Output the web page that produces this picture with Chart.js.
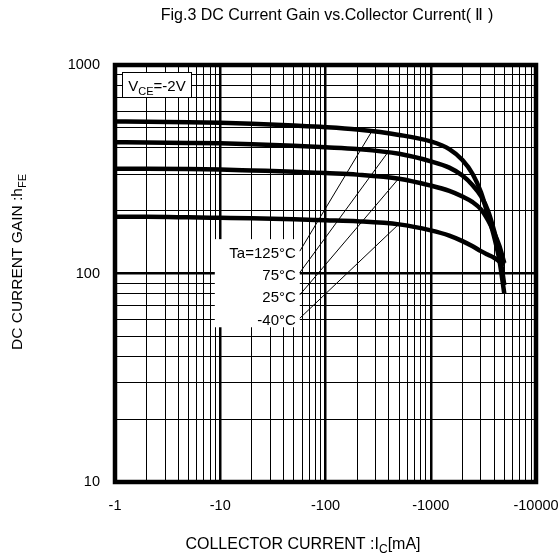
<!DOCTYPE html>
<html>
<head>
<meta charset="utf-8">
<script src="https://cdn.jsdelivr.net/npm/chart.js@4.4.1/dist/chart.umd.min.js"></script>
<style>
  body { margin: 0; background: #fff; }
  #wrap { width: 560px; height: 560px; }
</style>
</head>
<body>
<div id="wrap"><canvas id="gainChart" width="560" height="560"></canvas></div>
<script>
// Datos (corriente de colector en mA, se muestra con signo -)
const currents = [1, 2, 5, 10, 20, 50, 100, 200, 500, 1000, 1500, 2000, 2500, 3000, 3500, 4000, 4500, 5000];
const gain125 = [536, 535, 532, 528, 522, 512, 503, 490, 462, 430, 395, 350, 300, 245, 190, 150, 115, 80];
const gain75  = [426, 425, 423, 421, 417, 410, 403, 395, 375, 345, 322, 295, 265, 235, 200, 160, 125, 88];
const gain25  = [318, 318, 317, 315, 312, 308, 303, 298, 285, 264, 249, 234, 220, 203, 180, 157, 135, 112];
const gainM40 = [187, 187, 186, 185, 184, 182, 180, 178, 172, 161, 152, 143, 135, 128, 123, 119, 114, 110];
const seriesNames = ['Ta=125°C', '75°C', '25°C', '-40°C'];

const xTickValues = [1, 10, 100, 1000, 10000];
const xTickLabels = ['-1', '-10', '-100', '-1000', '-10000'];
const yTickValues = [10, 100, 1000];
const yTickLabels = ['10', '100', '1000'];

// líneas guía de las etiquetas de temperatura (en unidades del gráfico)
const leaderFromX = 57;
const leaderFromY = [128, 101, 79, 61];
const leaderToX = [275, 390, 495, 495];

const FONT = 'Liberation Sans, Arial, sans-serif';

// ticks menores 1..9 por década
function logTicks(min, max) {
  const out = [];
  for (let d = min; d < max; d *= 10) {
    for (let m = 1; m < 10; m++) out.push({ value: d * m });
  }
  out.push({ value: max });
  return out;
}

function isDecade(v) {
  const l = Math.log10(v);
  return Math.abs(l - Math.round(l)) < 1e-9;
}

// valor de la curva en x (interpolación log-log)
function gainAt(values, x) {
  for (let i = 0; i < currents.length - 1; i++) {
    if (x >= currents[i] && x <= currents[i + 1]) {
      const t = (Math.log10(x) - Math.log10(currents[i])) / (Math.log10(currents[i + 1]) - Math.log10(currents[i]));
      return Math.pow(10, Math.log10(values[i]) + t * (Math.log10(values[i + 1]) - Math.log10(values[i])));
    }
  }
  return values[values.length - 1];
}

// texto con subíndices
function drawRich(ctx, parts, x, y, align, size) {
  const big = size + 'px ' + FONT;
  const small = Math.round(size * 0.72) + 'px ' + FONT;
  let w = 0;
  parts.forEach(p => { ctx.font = p.sub ? small : big; w += ctx.measureText(p.t).width; });
  let cx = align === 'center' ? x - w / 2 : (align === 'right' ? x - w : x);
  ctx.textAlign = 'left';
  ctx.textBaseline = 'alphabetic';
  parts.forEach(p => {
    ctx.font = p.sub ? small : big;
    ctx.fillText(p.t, cx, p.sub ? y + size * 0.28 : y);
    cx += ctx.measureText(p.t).width;
  });
}

const allSeries = [gain125, gain75, gain25, gainM40];

const decoPlugin = {
  id: 'deco',
  beforeDatasetsDraw(chart) {
    const ctx = chart.ctx, a = chart.chartArea;
    const xs = chart.scales.x, ys = chart.scales.y;
    ctx.save();
    ctx.fillStyle = '#fff';
    // caja de etiquetas de temperatura
    const bx = xs.getPixelForValue(leaderFromX);
    const top = ys.getPixelForValue(leaderFromY[0]) - 12;
    const bot = ys.getPixelForValue(leaderFromY[3]) + 9;
    ctx.fillRect(bx - 85, top, 85, bot - top);
    // caja VCE
    ctx.fillRect(a.left + 7, a.top + 7, 69, 25);
    ctx.strokeStyle = '#000';
    ctx.lineWidth = 1;
    ctx.strokeRect(a.left + 7.5, a.top + 7.5, 69, 25);
    ctx.restore();
  },
  afterDatasetsDraw(chart) {
    const ctx = chart.ctx, a = chart.chartArea;
    const xs = chart.scales.x, ys = chart.scales.y;
    ctx.save();
    ctx.fillStyle = '#000';
    drawRich(ctx, [{ t: 'V' }, { t: 'CE', sub: true }, { t: '=-2V' }], a.left + 42, a.top + 26, 'center', 15);

    const bx = xs.getPixelForValue(leaderFromX);
    ctx.strokeStyle = '#000';
    ctx.lineWidth = 1;
    seriesNames.forEach((name, i) => {
      const y0 = ys.getPixelForValue(leaderFromY[i]);
      const x1 = xs.getPixelForValue(leaderToX[i]);
      const y1 = ys.getPixelForValue(gainAt(allSeries[i], leaderToX[i]));
      ctx.beginPath();
      ctx.moveTo(bx, y0);
      ctx.lineTo(x1, y1);
      ctx.stroke();
      ctx.font = '15px ' + FONT;
      ctx.textAlign = 'right';
      ctx.textBaseline = 'middle';
      ctx.fillText(name, bx - 4, y0 + 3);
    });

    // marco grueso
    ctx.lineWidth = 4.5;
    ctx.strokeRect(a.left, a.top, a.right - a.left, a.bottom - a.top);
    ctx.restore();
  },
  afterDraw(chart) {
    const ctx = chart.ctx;
    ctx.save();
    ctx.fillStyle = '#000';
    ctx.font = '16px ' + FONT;
    ctx.textAlign = 'center';
    ctx.textBaseline = 'middle';
    ctx.fillText('Fig.3 DC Current Gain vs.Collector Current( \u2161 )', 327, 16);
    drawRich(ctx, [{ t: 'COLLECTOR CURRENT :I' }, { t: 'C', sub: true }, { t: '[mA]' }], 303, 549, 'center', 16);
    ctx.translate(22, 262);
    ctx.rotate(-Math.PI / 2);
    drawRich(ctx, [{ t: 'DC CURRENT GAIN :h' }, { t: 'FE', sub: true }], 0, 0, 'center', 15.5);
    ctx.restore();
  }
};

const ctx = document.getElementById('gainChart').getContext('2d');
new Chart(ctx, {
  type: 'line',
  data: {
    labels: currents,
    datasets: allSeries.map((vals, i) => ({
      label: seriesNames[i],
      data: currents.map((c, j) => ({ x: c, y: vals[j] })),
      borderColor: '#000',
      borderWidth: 4.5,
      pointRadius: 0,
      tension: 0.4,
      cubicInterpolationMode: 'monotone',
      fill: false
    }))
  },
  options: {
    responsive: false,
    animation: false,
    layout: { padding: { top: 65, right: 24, left: 0, bottom: 0 } },
    plugins: { legend: { display: false }, tooltip: { enabled: false }, title: { display: false } },
    scales: {
      x: {
        type: 'logarithmic',
        min: 1,
        max: 10000,
        afterBuildTicks: s => { s.ticks = logTicks(1, 10000); },
        afterFit: s => { s.height = 78; s.paddingLeft = 0; s.paddingRight = 0; },
        border: { display: false },
        grid: {
          color: '#000',
          drawTicks: false,
          lineWidth: c => (isDecade(c.tick.value) ? 2.5 : 1)
        },
        ticks: {
          autoSkip: false,
          maxRotation: 0,
          padding: 15,
          color: '#000',
          font: { family: FONT, size: 14.5 },
          callback: v => { const k = xTickValues.indexOf(v); return k >= 0 ? xTickLabels[k] : ''; }
        }
      },
      y: {
        type: 'logarithmic',
        min: 10,
        max: 1000,
        afterBuildTicks: s => { s.ticks = logTicks(10, 1000); },
        afterFit: s => { s.width = 115; s.paddingTop = 0; s.paddingBottom = 0; },
        border: { display: false },
        grid: {
          color: '#000',
          drawTicks: false,
          lineWidth: c => (isDecade(c.tick.value) ? 2.5 : 1)
        },
        ticks: {
          autoSkip: false,
          padding: 15,
          color: '#000',
          font: { family: FONT, size: 14.5 },
          callback: v => { const k = yTickValues.indexOf(v); return k >= 0 ? yTickLabels[k] : ''; }
        }
      }
    }
  },
  plugins: [decoPlugin]
});
</script>
</body>
</html>
